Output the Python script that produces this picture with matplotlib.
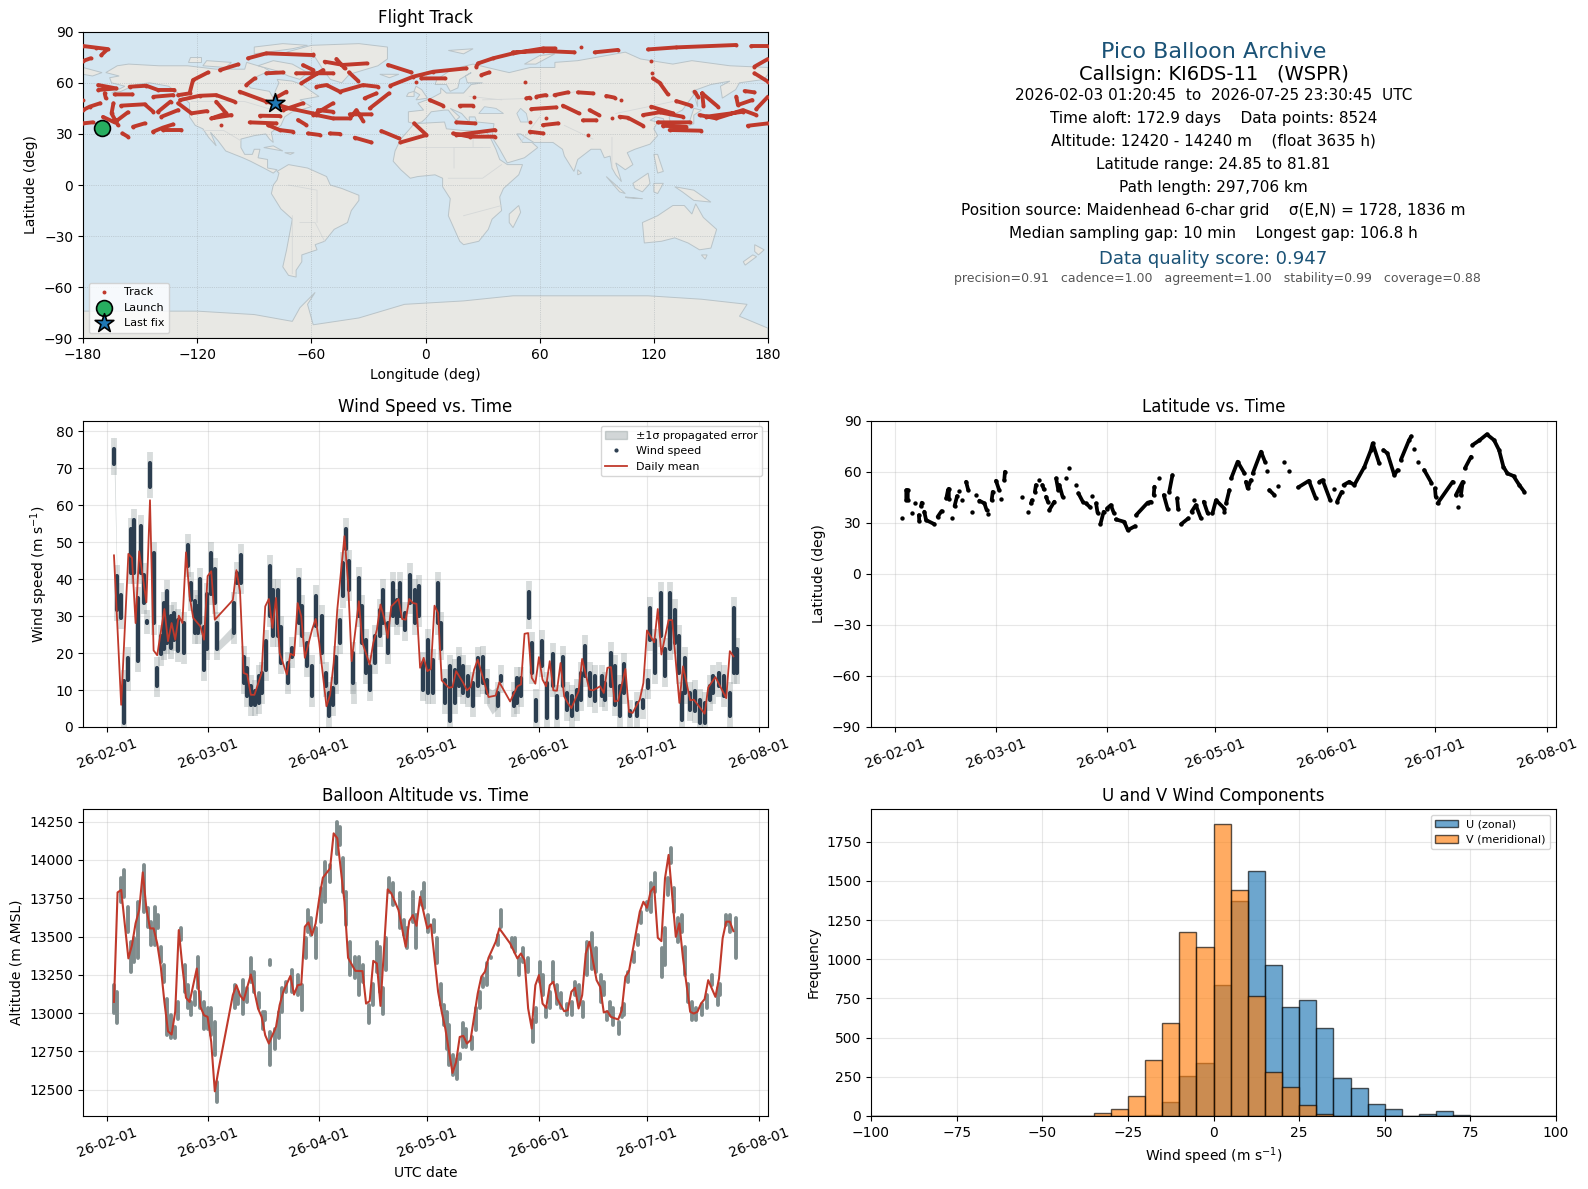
import numpy as np
import matplotlib
matplotlib.use('Agg')
import matplotlib.pyplot as plt
import matplotlib.dates as mdates
from matplotlib.patches import Polygon, Patch

n = np.nan

# flight track, one list of (lon, lat) per stretch
track_runs = [
 [(-180,81.6),(-173,80.6),(-167,79.8),(-170.4,76.3)], [(-180,72.8),(-176,74.4)], [(-180,50)], [(-180,44),(-176.5,46),(-171,48)], [(-180,36.2),(-175,36.8)],
 [(-172,58.7),(-162.5,56.7),(-172,55.8)], [(-168.6,53.8),(-168,51)], [(-163.4,53.2),(-154,53.2)], [(-155.5,57.7),(-146.7,58.3),(-140.6,55.8),(-132,55.8)],
 [(-143,51.8),(-132.7,52.8)], [(-160,46.6),(-147.6,47.4),(-143,43)], [(-164,48),(-165,42),(-161.6,35.2)], [(-169.5,40),(-163.4,36.8),(-156.4,42.7)],
 [(-159.3,30.3),(-156.4,28.4)], [(-153.7,34.2),(-147.6,36.2)], [(-143.2,31.3),(-138,33.7),(-132.7,35.6)], [(-138,32.3),(-128.3,32.3)],
 [(-140.6,43),(-134,49)], [(-138.8,40.1),(-130,44)], [(-130,52.8),(-124,53.8),(-122.2,61.6),(-114.3,66.1)], [(-108,67.5),(-98.5,70.8)],
 [(-130,48),(-123,42.1),(-115,43.4)], [(-129,49.9),(-118.7,52.4),(-110,52.8),(-100.3,48.9)], [(-110,48.9),(-104.7,42.1),(-112.6,39.1),(-102,41.1)], [(-107.3,35.2)],
 [(-93.3,74.4),(-83.7,77.3),(-59,76.3)], [(-94.2,58.7),(-89.8,62.6)], [(-83.6,65.6),(-75,66.1)], [(-97.7,54.8),(-83.6,49),(-71.4,45),(-59,42)],
 [(-73.1,54.8),(-79.3,50.9)], [(-87,40.7),(-76.6,40.5)], [(-92.4,36.8),(-78.4,36.2)], [(-82.8,35.2),(-76.6,32.3),(-69.6,31.3)], [(-67,38.2),(-62.6,35.2)],
 [(-61.8,30.3),(-55.6,29.4)], [(-65.3,59.7),(-53.8,67.5)], [(-64.4,70.4),(-59,67.5)], [(-68,65.6),(-48.6,65.6)], [(-75,44),(-64.4,48)], [(-59,76.7)],
 [(-53,72.4),(-43.3,70.5),(-31,71.4)], [(-46.8,74),(-42.5,68.5)], [(-40.2,66.1),(-35.4,61.1)], [(-19.7,70.5),(-7.4,66.1)],
 [(-18.5,58.3),(-6.5,63.6),(4,66.5),(21.5,68.5)], [(-2.2,62.6),(10.1,62.6)], [(-4.8,60.3)], [(-57.3,57.7),(-52,58.7),(-45,54.8),(-32.8,58.7),(-25,57.7)],
 [(-32,50.9),(-25.8,53.8)], [(-29.3,45),(-19.2,53.8)], [(-59,41.1),(-48.6,48)], [(-56.5,44),(-48.6,43)],
 [(-57.3,41.1),(-48.6,39.1),(-39.8,39.1),(-36.3,44),(-32.8,37.6)], [(-39.8,41.5),(-28.4,41.5)], [(-50.3,30.3),(-45,30)], [(-37.2,27.8),(-28.4,25)],
 [(-23.2,31.7),(-13.9,27.4)], [(-13.2,25),(0.5,29.4),(-6,36.2)], [(2.2,49.9),(9.2,46.6)], [(18,46.6),(25,46.6)], [(25.7,51.5)], [(29.4,64.6),(33.4,66.1)],
 [(26.7,69.5),(27.6,71.4),(35.5,74.4),(46,77.3),(61.8,80.2),(67.8,80.2)], [(46,77.9),(61.7,78.7),(78.3,77.9)], [(52.3,60.5)], [(53,50.9),(54.8,51.3)],
 [(58.3,51.9),(63.1,52.8)], [(55.6,44.6),(68.7,45.6)], [(54.8,36.8)], [(54.8,31.3),(61.8,30.3)], [(16.2,36.8),(25.9,36.2)],
 [(14.5,30.3),(23.2,28.4),(36.4,28.4)], [(16.2,29.4),(36.4,32.3)],
 [(81.8,80.8)], [(88.9,77.9),(101.1,79.3)], [(116.9,79.6),(131.8,80.8),(163.3,82.2)], [(171.2,81.6),(180,81.6)], [(118.6,73)], [(119.2,65.6)],
 [(119.5,62.6),(123,60.1),(127.4,53.2)], [(67.8,52.8),(74.8,54.4)], [(80.1,54.4),(88,53.8)], [(95,52.3),(99.4,51.3)], [(102.9,49.9)],
 [(72.2,46.6),(80.6,42.1)], [(86.2,44),(91.1,41.1)], [(82.7,38),(89.7,38)], [(63.5,39.5)], [(61.7,35.2),(69.6,36.2)], [(85.3,29.4)], [(98.1,39.1)],
 [(102,40.1),(106.4,39.5),(114.3,34.8)], [(114.3,41.1),(123,42.7),(135.3,40.1)], [(118.6,46),(130,42.1)], [(122.1,36.8),(138.8,36.8)],
 [(128.3,32.3),(144.9,31.9)], [(124.8,34.8),(137,34.2)], [(131.8,49.3),(139.7,46.6)], [(141.4,54.8),(143.2,51.9)], [(145.4,53.8),(153.7,46)],
 [(145.4,53.8),(146.1,46.6)], [(144,41.1),(152.8,39.1),(166.8,44),(173.8,41.1)], [(147.5,40.1),(166.8,43)], [(167.7,55.2),(172.9,54.4)],
 [(163.3,51.9),(164.2,47),(171.7,49.9)], [(173.8,44.6),(180,51.9)], [(169.4,34.8),(180,36.2)], [(172.9,69.5),(180,74)], [(172.9,65.6),(180,60.7)],
]

# landmass outlines
north_america = [(-168,66),(-162,70),(-156,71),(-140,70),(-125,70),(-110,68),(-95,68),(-94,72),(-85,69),(-82,67),(-88,64),(-94,60),(-92,57),(-82,55),(-80,51),(-79,55),(-77,60),(-78,62),(-70,61),(-65,59),(-60,55),(-56,52),(-66,50),(-60,46),(-66,44),(-70,43),(-74,40),(-76,35),(-81,31),(-80,25),(-82,27),(-84,30),(-90,29),(-97,27),(-97,22),(-95,18),(-91,18),(-90,21),(-87,21),(-88,16),(-83,15),(-83,10),(-78,9),(-80,7),(-85,10),(-92,14),(-96,16),(-105,20),(-109,26),(-113,31),(-110,23),(-114,28),(-117,33),(-121,35),(-124,40),(-124,48),(-130,54),(-135,58),(-145,60),(-152,59),(-160,55),(-165,54),(-158,58),(-165,60),(-166,63),(-161,64)]
greenland = [(-73,78),(-60,82),(-35,83),(-20,81),(-20,74),(-25,70),(-40,65),(-44,60),(-50,62),(-54,68),(-58,75),(-68,76)]
baffin = [(-80,73),(-70,71),(-62,66),(-66,62),(-72,64),(-78,67),(-88,70)]
victoria = [(-117,70),(-105,69),(-102,72),(-115,73)]
ellesmere = [(-90,77),(-70,80),(-62,82),(-75,83),(-90,81)]
banks = [(-125,72),(-118,72),(-118,75),(-124,75)]
south_america = [(-78,8),(-72,12),(-62,10),(-52,5),(-50,0),(-44,-2),(-35,-6),(-35,-9),(-39,-15),(-41,-22),(-48,-26),(-53,-33),(-58,-35),(-57,-38),(-65,-41),(-65,-45),(-68,-50),(-68,-54),(-72,-53),(-75,-48),(-73,-38),(-70,-20),(-76,-14),(-81,-5),(-80,0),(-78,3),(-77,7)]
africa = [(-6,36),(10,37),(11,33),(20,32),(25,32),(32,31),(34,28),(37,21),(39,15),(43,12),(51,12),(49,6),(41,-2),(39,-7),(40,-15),(35,-20),(33,-26),(28,-33),(20,-35),(18,-33),(12,-18),(13,-8),(9,-1),(9,4),(5,6),(-4,5),(-8,4),(-13,9),(-17,14),(-16,20),(-13,27),(-9,32)]
eurasia = [(-9,37),(-9,43),(-1,44),(-4,48),(3,51),(8,54),(8,57),(11,54),(20,54),(24,59),(30,60),(22,60),(21,64),(24,66),(18,62),(17,57),(13,55),(11,59),(5,59),(6,62),(14,68),(25,71),(40,67),(44,66),(55,69),(68,69),(68,72),(80,73),(105,78),(113,74),(130,71),(140,73),(160,70),(180,69),(180,65),(178,62),(165,60),(163,56),(156,51),(155,58),(160,61),(150,59),(140,55),(141,53),(135,44),(128,40),(129,35),(126,35),(125,39),(121,40),(118,38),(122,37),(120,33),(122,29),(118,24),(110,21),(106,19),(109,12),(105,9),(100,13),(103,2),(100,6),(98,10),(97,17),(94,16),(92,21),(87,21),(80,15),(78,8),(73,17),(72,21),(67,25),(57,25),(54,27),(50,30),(48,30),(51,25),(56,25),(59,22),(52,16),(43,13),(39,21),(35,28),(36,36),(27,37),(26,40),(23,40),(23,37),(19,42),(13,45),(18,40),(16,38),(12,44),(10,44),(3,43),(0,39),(-2,37),(-6,36)]
chukotka = [(-180,69),(-170,66),(-175,64),(-180,65)]
australia = [(114,-22),(122,-18),(130,-12),(136,-12),(140,-17),(142,-11),(146,-19),(153,-26),(150,-37),(144,-38),(138,-34),(131,-31),(124,-33),(115,-34)]
tasmania = [(145,-41),(148,-41),(147,-43.5)]
nz_north = [(173,-35),(178,-38),(175,-41),(173,-39)]
nz_south = [(172,-41),(174,-42),(168,-47),(167,-45)]
madagascar = [(49,-12),(50,-16),(46,-25),(44,-22),(44,-17)]
antarctica = [(-180,-74),(-120,-74),(-90,-76),(-70,-80),(-66,-72),(-58,-63),(-62,-70),(-59,-82),(-35,-78),(-11,-70),(20,-68),(46,-65),(117,-65),(145,-67),(169,-70),(165,-77),(180,-84),(180,-90),(-180,-90)]
britain = [(-5,50),(1,51),(-2,56),(-5,58),(-6,55),(-3,53)]
ireland = [(-10,52),(-6,52),(-6,55),(-9,54)]
iceland = [(-24,65),(-14,65),(-19,63)]
japan = [(130,32),(136,34),(141,36),(141,41),(145,44),(141,45),(139,38),(132,35)]
sumatra = [(95,5),(105,-5),(102,-4)]
borneo = [(109,1),(117,7),(118,1),(114,-4),(110,-2)]
java = [(105,-7),(114,-8),(106,-7.5)]
sulawesi = [(120,1),(125,1),(122,-5),(120,-4)]
new_guinea = [(131,-1),(141,-3),(150,-10),(141,-9),(135,-4)]
philippines = [(120,18),(122,18),(125,8),(122,7)]
sri_lanka = [(80,9),(82,7),(80,6)]
cuba = [(-85,22),(-75,20),(-80,23)]
hispaniola = [(-74,19),(-69,19),(-71,18)]
svalbard = [(12,79),(25,80),(20,77)]
novaya = [(52,71),(58,71),(68,77),(60,76)]
sakhalin = [(142,54),(143,50),(143,46),(142,50)]
land_parts = [north_america, greenland, baffin, victoria, ellesmere, banks, south_america, africa, eurasia, chukotka,
              australia, tasmania, nz_north, nz_south, madagascar, antarctica, britain, ireland, iceland, japan, sumatra,
              borneo, java, sulawesi, new_guinea, philippines, sri_lanka, cuba, hispaniola, svalbard, novaya, sakhalin]
black_sea = [(28,42),(31,46),(37,45),(41,42),(35,42)]
caspian = [(50,45),(53,42),(54,37),(50,37),(48,42)]

border_runs = [[(-123,49),(-95,49),(-83,45),(-75,45),(-67,47)], [(-117,32),(-106,32),(-97,26)], [(-70,-18),(-70,-52)],
               [(-66,-22),(-58,-22),(-53,-33)], [(-72,0),(-57,-3),(-57,-22)], [(-10,22),(25,22),(34,22)], [(15,10),(15,22),(30,22)],
               [(25,22),(25,32)], [(12,4),(30,4),(40,12)], [(20,-18),(40,-12)], [(30,50),(60,51),(80,55)], [(60,40),(50,25)],
               [(100,42),(130,49)], [(73,35),(88,27)], [(98,10),(98,28)], [(23,52),(40,50)]]

launch_lon, launch_lat = -170, 33.5
last_lon, last_lat = -79, 48.3

# wind speed: day since 02-01, spread of the fixes in that day's column
wind_day = [2.1,2.8,3.9,4.8,5.8,6.7,7.5,8.7,9.5,10.3,11.1,12.1,13,14,15,15.8,16.7,17.9,18.8,19.7,21.4,22.5,23.3,24.4,25.3,26,27,27.8,29,30,30.7,
 35.3,36.2,37.3,38,39,40.1,41.2,42.3,43.2,44.1,45.2,46.2,47.6,48.5,50.3,51.3,53.4,54.3,55.6,57,58.2,59.9,60.8,61.7,62.8,63.7,64.7,65.6,66.5,67.3,68.4,68.6,70,71,71.9,73,74.4,75.8,76.7,78.1,79.5,80.5,81.4,82.8,84.3,85.5,86.7,87.9,89.2,
 90.7,92,92.8,93.9,95.3,96.7,97.9,99,100.4,101.6,103.2,104.6,105.5,108.5,109.5,113,114,115,117.2,118.1,119.1,120.8,122.2,123.8,125.1,126.6,127.7,129.1,130.5,131.7,132.9,134.2,135.6,137.5,138.4,140,141,142.4,143.7,145.3,147.2,148.9,150.2,150.9,152.3,154,155.1,156.5,157.7,158.8,159.7,160.6,162,163.4,164.8,166.2,167.4,168.3,169.9,171.5,173,174.1,175]
wind_high = [75.2,40.8,35.8,12.4,18.7,53.4,56,34.9,54.3,41.2,28.6,71.4,47,16,24.5,33.5,36.7,30,30.8,29,28,49.3,39,34,32.6,39.9,27,36,47,42.6,28,
 33.5,41.7,46.6,19,16,11,9.6,13.7,14.6,23.2,43.5,37,37,27,17.3,21.4,39.9,32.6,22.7,16.4,35.3,30,14.6,9.2,10.5,19,29,44.4,53.4,44.8,20,9.2,40.3,32.6,23.6,16.4,24.5,31.7,37,28,39,34.4,39,30.8,41.2,37,38,17.3,23.6,
 18.2,39,28,12.8,16.4,15.5,18.7,16.4,13.7,11.9,18.7,19,12.8,9.2,13.7,9.2,13.3,13.3,36.4,22.7,7.4,23.2,11.9,19.6,8.3,19,9.2,8.3,10,14.6,21.8,14.6,13.7,13.7,11.9,20,16.4,11,16.9,4.2,6.5,7.4,12.8,32.2,23.6,36.2,21,36.2,31.7,24.5,9.2,18.7,9.2,9.6,7.4,6.5,11,13.7,14.6,13.7,9.2,32.2,21]
wind_low = [71,31.7,29.5,1.1,12.8,41.7,41.7,17.8,41.7,33.5,28.1,65,28,11,19.6,21,22.7,21.4,23.6,20.5,20,43.5,34.4,25.4,25.4,28,15.5,21,36,33.5,21,
 25.4,39,39,12,8.3,6,6,6.5,9.2,15.5,30,24.5,24.5,17.3,12,19,28,24.5,16.4,8.3,27.2,20,11,3,6,12,22.7,35.3,48,37,12,9.2,30,22.7,14.6,10,17.3,24.5,28,20,30,28,30,26.3,33.5,28,30,10,9.2,
 9.2,28,21,6.5,1.5,6.5,11,9.2,8.3,5.6,11,12,9.2,5.6,12.3,5.6,6.5,8.3,29.5,14.6,1.5,16.4,2.4,11,2.4,11,4.7,2.9,4.7,7.4,13.7,8.3,6.9,8.3,7.4,11,6,2.9,9.2,2.9,2.9,5.1,10.6,23.6,14.6,24.5,13.7,21,22.7,14.6,2,9.2,4.7,4.2,1,1,7.4,9.2,11,8.3,2.9,14.6,14.6]
wind_sigma = 3

# stretches where the error band bridges a gap between fixes
gap1_day = [2.1,2.8]
gap1_low = [68,38]
gap1_high = [79,43]
gap2_day = [30.9,35.3]
gap2_low = [20.5,24.5]
gap2_high = [23.2,27.7]
gap3_day = [105.5,107,108.5]
gap3_low = [6,3.5,5]
gap3_high = [11,10,11]

wind_mean_day = [2,4,6,7,8,9,11,12,13,14,16,17,18,19,20,21,22,23,24,26,27,28,29,30,35,36,37,38,39,40,41,43,44,45,46,47,48,50,51,52,53,54,55,57,58,59,61,62,63,64,66,67,68,70,71,73,74,75,76,77,78,79,81,82,83,84,85,86,87,88,89,
 90,91,92,93,95,96,97,99,100,101,102,103,106,108,109,112,114,115,116,117,118,119,120,121,122,123,124,125,126,127,128,129,131,132,134,135,137,138,139,140,141,142,144,145,146,148,149,150,152,153,154,156,157,159,160,162,163,166,167,169,172,173,174]
wind_mean = [46.4,6,46.8,45.7,28.1,47.5,33.7,61.3,20.7,19.4,31.9,23.2,28.1,23.6,30.1,28.1,47.2,35.3,29.5,27.2,23.6,40.8,42.1,29,34.3,42.4,36.7,14.6,14.2,8.7,8.7,14.6,32.6,34.6,26.8,34.9,20,14.2,19.8,19.3,33.5,29.9,18.7,26.3,29.2,22.7,5.6,8.7,17.3,31.7,51.6,39,17.8,34,22.7,16.9,22.7,26.3,33.1,29.5,24.1,32.6,34.6,29.2,29,34.6,33.5,33.3,16,18.7,15.1,
 15.7,32.8,30.8,12.6,10.6,10.8,15.1,11.9,9.9,10.8,15.5,18.2,8.1,8.5,12.1,6.9,11,11.5,25.2,25.4,13.3,11.7,18.9,12.8,11,17.8,9.9,9.8,17.3,8.3,6.5,5.1,9.6,18.4,10.1,9.9,11,9.2,16,16.2,6.9,7.1,15.7,4.1,3.8,7.4,11.9,26.1,22.9,31.9,19.6,28.9,28.9,6.5,16.4,7.2,7.4,3.6,10.7,13.5,7.8,20.5,19.1]

# latitude strokes, one list of (day, lat) per stretch
lat_runs = [
 [(2.1,33)], [(3.2,49.2),(3.2,43.3)], [(3.6,49.2),(3.6,43.3)], [(4.8,35.5)], [(5.6,41.4)], [(7.5,41.8),(7.3,39.8)], [(6.7,34.5),(6.8,31)],
 [(8.2,36.5),(8.7,31.6),(11,29.2)], [(11.9,33.5),(13,36.9)], [(14.8,49.5),(14.3,44.3)], [(15,50),(15,44)], [(16,32.6)], [(17.3,45.7),(16.6,39.8)], [(17.7,48.8)], [(18.7,43.3)],
 [(19.8,54.1),(20.4,49.2)], [(21.5,36.5)], [(22.6,46.3)], [(23.5,43),(24.9,41.4),(25.5,37.5)], [(26,35.1)], [(26.9,43.3),(27.2,48.2)], [(28.1,54.7),(29,49.2)], [(29.6,44.1)],
 [(30.6,60),(30.4,55.1)], [(35.3,45.3)], [(37.1,36.5)], [(38.1,43.3),(37.8,41.4)], [(38.9,48.2),(39.2,52.2)], [(40,55.1)], [(41,52.2),(41.4,49.6)], [(42,45.3),(42.5,42.4)],
 [(42.9,37.5),(44.3,42.4)], [(44.8,56.1),(45.4,49.2)], [(45.7,52.2),(46.6,45.3)], [(47.5,56.1)], [(48.5,62.4)], [(50.3,52.2)], [(51,47.3),(52.2,42.4)], [(53.1,41.4),(54.3,39)],
 [(54.9,45.9)], [(55.9,41.4),(56.3,35.9)], [(58,36.5),(57.1,29.2)], [(58.9,38.4),(60,40.4),(60.8,35.9)], [(61.4,32),(63.7,30.6),(64.7,25.7),(66.7,28)],
 [(67,34.5),(70.2,41.8),(71.1,42.4)], [(71.9,46.3),(72.1,51.2)], [(73.5,56.1)], [(77.1,58),(76.2,48.2)], [(74.7,46.3),(75.8,37.9)], [(78.4,44.3),(78.7,37.9)],
 [(79.5,29.2),(81.5,32.6)], [(83.2,43.3)], [(82.4,36.5),(83.6,40.4),(85,32.6)], [(85.8,42.4),(86.9,35.5)], [(88.2,35.5),(89.2,43.3),(91.5,38.4)],
 [(91.5,36.5)], [(92,41.4),(92.9,49.2)], [(93.4,56.1),(95.2,65.9),(97.1,59)], [(97.5,54.1),(98,50.2),(98.9,55.1)], [(99.4,59),(101.7,71.8),(102.8,65.9)], [(103.3,60.4)],
 [(104,49.2),(105.4,46.3)], [(106.5,51.6)], [(108.2,65.5)], [(109.4,60.6)], [(112,50.8),(115,54.7),(116.9,44.3)], [(117.9,54.1),(118.8,55.1),(120.9,43.3)], [(121.9,49.6)],
 [(122.8,42.4),(124.1,48.2)], [(124.6,52.2),(126.2,54.1),(127.6,52.2),(130.4,62.9),(132.2,72.7),(132.7,76.7),(134.5,64.9)], [(135.7,72.7),(136.8,70.8),(138.7,58),(139.6,61)],
 [(140.5,66.9),(142.8,78.6),(143.4,80.8)], [(144.2,73.1)], [(145.2,65.5)], [(147,61),(149,53.5)], [(150,50.2),(150.2,45.3)], [(150.7,41.4),(154.9,54.1)],
 [(155.8,46.3),(157.7,54.1),(157.2,46.3)], [(156.5,39.4)], [(158.3,62),(160,68.8)], [(160.4,75.7),(162.3,78.4),(164.4,82),(166.4,78.6),(167.8,72.7),(169,62.9),(170.1,59),(171.8,57.5),(173.4,52.2),(174.8,48.2)],
]

# altitude: same kind of daily columns
alt_day = [2.1,2.9,3.9,4.7,6,6.7,7.6,8.6,10.3,11.4,12.3,13.3,14.2,15,16,16.8,17.9,19,19.7,20.6,21.6,22.5,23.4,24.4,25.3,26,27,28,29,30,30.6,35.5,36.4,37.8,38.9,40.1,41,42.2,43.4,44,45.2,45.3,46.6,47.7,48.7,49.9,51.4,53.1,54.2,55.2,55.9,56.8,58.1,59.6,60.5,62.1,63.8,64.7,65.6,66.5,67.5,68.9,70,71.1,72.8,73.9,74.9,75.8,76.7,77.6,78.4,79.5,81.4,82.4,83.3,85.1,86,87.4,88.1,89.2,
 90.9,91.8,92.7,93.6,94.6,95.1,96.2,97.2,98.1,98.8,99.8,101.3,102.5,103.5,104.6,105.5,106.7,108.5,109.5,112.4,113.4,114.6,115.7,117,118.3,119.1,120.3,121,122,123,124,125,126.1,127.8,129.1,130,131,132.2,133.3,134.7,135.8,137.2,138.1,138.9,139.8,140.7,140.8,142.3,143,143.7,144.6,146.3,147.4,148.3,150,151.1,152.1,154.2,155.1,155.7,156.7,157.4,158.5,159.7,160.6,161.4,162.5,163.7,165.3,166.6,168,169.6,170.4,172,173.1,174.8]
alt_high = [13182,13140,13880,13934,13695,13466,13488,13727,13967,13684,13597,13695,13640,13433,13313,13095,12986,12910,13073,13553,13313,13182,13073,13139,13368,13139,13073,13030,13030,12943,12550,13182,13139,13215,13161,13357,13270,13128,13008,13008,12877,13346,12899,13008,13161,13204,13280,13248,13182,13488,13673,13618,13553,13815,13989,13967,14250,14217,14010,13793,13466,13368,13368,13313,13052,13193,13466,13433,13161,13488,13880,13847,13782,13607,13553,13793,13640,13793,13847,13640,
 13607,13488,13193,13052,13008,12921,12725,12703,12735,12932,12899,12844,13030,13139,13226,13324,13368,13509,13673,13488,13488,13357,13422,13357,12953,13030,13335,13248,13041,13139,13335,13182,13128,13062,13073,13204,13182,13073,13466,13520,13422,13248,13204,13008,13073,13030,12779,12943,13030,13062,13270,13400,13509,13662,13727,13847,13913,13422,13553,13880,14076,13815,13618,13640,13433,13193,13073,13030,13062,13117,13248,13161,13193,13640,13640,13618]
alt_low = [13000,12932,13727,13760,13531,13270,13335,13357,13662,13564,13444,13444,13553,13335,13204,12855,12834,12834,12964,13477,13139,13030,12986,13052,13161,13030,12899,12899,12855,12725,12419,13030,13062,12997,13073,13204,13139,13030,12899,12953,12659,13313,12768,12834,13008,13139,13139,13117,13019,13357,13531,13509,13357,13597,13727,13858,14042,14097,13793,13575,13248,13226,13117,13204,12932,13052,13270,13139,12997,13280,13793,13706,13553,13509,13422,13597,13422,13706,13684,13531,
 13531,13324,13052,12921,12768,12659,12594,12572,12703,12779,12779,12768,12888,13030,13171,13182,13357,13444,13564,13433,13400,13248,13331,13270,12812,12943,13204,13117,12975,13030,13204,13062,13030,12986,12986,13117,13052,12975,13248,13291,13270,13073,13117,12953,12986,12921,12779,12866,12975,12986,13204,13335,13444,13586,13673,13662,13793,13237,13313,13771,13978,13662,13466,13531,13248,13073,12953,12953,12986,13030,13182,13052,13117,13575,13531,13357]

alt_mean_day = [2,3,4,6,7,8,9,10,11,12,13,14,15,16,17,18,19,20,21,22,23,25,26,27,28,29,30,31,35,36,37,38,40,42,43,44,45,47,48,49,51,52,53,54,55,56,57,58,59,60,62,63,64,65,66,67,69,71,72,73,74,75,76,78,79,81,83,84,85,86,87,89,
 90,92,93,94,96,97,98,99,100,101,103,104,105,106,108,109,112,114,115,116,117,118,119,120,121,122,123,124,125,127,128,129,130,131,132,133,134,136,137,138,139,140,142,143,144,145,148,149,150,151,152,153,154,155,156,158,159,160,162,163,164,165,166,167,169,170,171,172,173,174]
alt_mean = [13073,13788,13804,13357,13444,13586,13673,13919,13684,13553,13553,13455,13302,13073,12881,12860,13008,13542,13302,13100,13073,13291,13041,12986,12975,12812,12489,12626,13117,13182,13117,13084,13252,13030,12975,12855,12801,12910,13052,13139,13243,13121,13182,13187,13564,13592,13509,13586,13749,13884,13945,14174,14142,13934,13727,13361,13276,13274,13062,13078,13341,13324,13047,13808,13782,13673,13433,13601,13640,13570,13760,13553,
 13579,13139,13008,12899,12609,12681,12844,12851,12801,12823,13128,13237,13270,13361,13466,13553,13455,13357,13389,13346,13030,12899,13182,13248,13062,13034,13182,13204,13095,13012,13019,13139,13165,13030,13117,13389,13466,13215,13171,13004,13012,12975,12958,13019,13237,13274,13662,13727,13688,13793,13825,13492,13470,13880,14033,13498,13586,13357,13008,12997,13008,13062,13091,13215,13106,13226,13488,13597,13597,13535]

# histogram counts, 5 m/s bins
bin_edges = list(range(-100, 105, 5))
u_left = [-20,-15,-10,-5,0,5,10,15,20,25,30,35,40,45,50,60,65,70]
u_count = [4,90,256,337,835,1372,1564,963,695,737,560,241,177,75,43,11,30,4]
v_left = [-35,-30,-25,-20,-15,-10,-5,0,5,10,15,20,25,30]
v_count = [21,43,124,356,592,1174,1078,1865,1443,763,277,181,66,11]

W, H = 1588, 1189
red = '#c0392b'
navy = '#2c3e50'
slate = '#7f8c8d'
title_blue = '#1a5276'


def add_axes(left, top, right, bottom):
    return fig.add_axes([left / W, 1 - bottom / H, (right - left) / W, (bottom - top) / H])


def date_axis(ax):
    ax.set_xlim(base - 6.6, base + 183.6)
    ax.xaxis.set_major_locator(mdates.MonthLocator())
    ax.xaxis.set_major_formatter(mdates.DateFormatter('%y-%m-%d'))
    ax.tick_params(axis='x', labelrotation=20)
    ax.grid(alpha=0.3)
    ax.set_axisbelow(True)


def split_runs(runs):
    xs, ys = [], []
    for run in runs:
        xs += [p[0] for p in run] + [n]
        ys += [p[1] for p in run] + [n]
    return np.array(xs), np.array(ys)


base = mdates.datestr2num('2026-02-01')
fig = plt.figure(figsize=(W / 100, H / 100), dpi=100)

# map
ax1 = add_axes(83, 31.7, 768, 338.4)
ax1.set_facecolor('#d4e6f1')
for part in land_parts:
    ax1.add_patch(Polygon(part, closed=True, fc='#e8e8e4', ec='#b9c4c9', lw=0.7, zorder=1))
for part in [black_sea, caspian]:
    ax1.add_patch(Polygon(part, closed=True, fc='#d4e6f1', ec='#b9c4c9', lw=0.6, zorder=1.1))
border_x, border_y = split_runs(border_runs)
ax1.plot(border_x, border_y, color='#d5d8d8', lw=0.6, zorder=1.2)
ax1.grid(color='#a0a8ac', lw=0.5, linestyle=':', alpha=0.8, zorder=1.5)
track_x, track_y = split_runs(track_runs)
ax1.plot(track_x, track_y, color=red, lw=2.8, solid_capstyle='round', zorder=3)
ax1.scatter(track_x, track_y, s=8, color=red, linewidths=0, zorder=3, label='Track')
ax1.scatter([launch_lon], [launch_lat], s=130, color='#27ae60', edgecolors='k', linewidths=1.2, zorder=5, label='Launch')
ax1.scatter([last_lon], [last_lat], s=200, marker='*', color='#1f77b4', edgecolors='k', linewidths=1.2, zorder=6, label='Last fix')
ax1.set_xlim(-180, 180)
ax1.set_ylim(-90, 90)
ax1.set_xticks(range(-180, 181, 60))
ax1.set_yticks(range(-90, 91, 30))
ax1.set_xlabel('Longitude (deg)')
ax1.set_ylabel('Latitude (deg)')
ax1.set_title('Flight Track', fontsize=12)
ax1.legend(loc='lower left', fontsize=8, framealpha=0.8)

# summary text
cx = 1213.5 / W
fig.text(cx, 1 - 52.5 / H, 'Pico Balloon Archive', fontsize=16, color=title_blue, ha='center', va='center')
fig.text(cx, 1 - 75 / H, 'Callsign: KI6DS-11   (WSPR)', fontsize=14, ha='center', va='center')
summary_lines = ['2026-02-03 01:20:45  to  2026-07-25 23:30:45  UTC',
                 'Time aloft: 172.9 days    Data points: 8524',
                 'Altitude: 12420 - 14240 m    (float 3635 h)',
                 'Latitude range: 24.85 to 81.81',
                 'Path length: 297,706 km',
                 'Position source: Maidenhead 6-char grid    \u03c3(E,N) = 1728, 1836 m',
                 'Median sampling gap: 10 min    Longest gap: 106.8 h']
summary_y = [95.5, 118.5, 141.5, 164.5, 187.5, 210.5, 233.5]
for line, y in zip(summary_lines, summary_y):
    fig.text(cx, 1 - y / H, line, fontsize=11, ha='center', va='center')
fig.text(cx, 1 - 258.5 / H, 'Data quality score: 0.947', fontsize=13, color=title_blue, ha='center', va='center')
fig.text(cx + 4 / W, 1 - 278.5 / H, 'precision=0.91   cadence=1.00   agreement=1.00   stability=0.99   coverage=0.88',
         fontsize=9, color='#555555', ha='center', va='center')

# wind speed
ax2 = add_axes(83, 420.7, 768, 727)
wd = base + np.array(wind_day)
wl = np.array(wind_low)
wh = np.array(wind_high)
ax2.vlines(wd, wl - wind_sigma, wh + wind_sigma, color=slate, alpha=0.3, lw=4.2)
for gd, gl, gh in [(gap1_day, gap1_low, gap1_high), (gap2_day, gap2_low, gap2_high), (gap3_day, gap3_low, gap3_high)]:
    ax2.fill_between(base + np.array(gd), gl, gh, color=slate, alpha=0.35, lw=0)
ax2.vlines(wd, wl, wh, color=navy, lw=3, capstyle='round')
ax2.plot(base + np.array(wind_mean_day), wind_mean, color=red, lw=1.3)
date_axis(ax2)
ax2.set_ylim(0, 82.8)
ax2.set_ylabel('Wind speed (m s$^{-1}$)')
ax2.set_title('Wind Speed vs. Time', fontsize=12)
band_handle = Patch(color=slate, alpha=0.35, label='\u00b11\u03c3 propagated error')
dot_handle = plt.Line2D([], [], ls='', marker='o', ms=2, color=navy, label='Wind speed')
line_handle = plt.Line2D([], [], color=red, lw=1.3, label='Daily mean')
ax2.legend(handles=[band_handle, dot_handle, line_handle], loc='upper right', fontsize=8)

# latitude
ax3 = add_axes(871, 420.7, 1556, 727)
lat_x, lat_y = split_runs(lat_runs)
ax3.plot(base + lat_x, lat_y, color='k', lw=2.7, solid_capstyle='round')
ax3.scatter(base + lat_x, lat_y, s=10, color='k', linewidths=0)
date_axis(ax3)
ax3.set_ylim(-90, 90)
ax3.set_yticks(range(-90, 91, 30))
ax3.set_ylabel('Latitude (deg)')
ax3.set_title('Latitude vs. Time', fontsize=12)

# altitude
ax4 = add_axes(83, 809.3, 768, 1115.8)
ad = base + np.array(alt_day)
ax4.vlines(ad, alt_low, alt_high, color=slate, lw=2.8, capstyle='round')
ax4.plot(base + np.array(alt_mean_day), alt_mean, color=red, lw=1.5)
date_axis(ax4)
ax4.set_ylim(12329, 14331)
ax4.set_xlabel('UTC date')
ax4.set_ylabel('Altitude (m AMSL)')
ax4.set_title('Balloon Altitude vs. Time', fontsize=12)

# histogram
ax5 = add_axes(871, 809.3, 1556, 1115.8)
ax5.hist(u_left, bins=bin_edges, weights=u_count, color='#1f77b4', alpha=0.65, edgecolor='k', label='U (zonal)')
ax5.hist(v_left, bins=bin_edges, weights=v_count, color='#ff7f0e', alpha=0.65, edgecolor='k', label='V (meridional)')
ax5.set_xlim(-100, 100)
ax5.set_ylim(0, 1958)
ax5.grid(alpha=0.3)
ax5.set_axisbelow(True)
ax5.set_xlabel('Wind speed (m s$^{-1}$)')
ax5.set_ylabel('Frequency')
ax5.set_title('U and V Wind Components', fontsize=12)
ax5.legend(loc='upper right', fontsize=8)

fig.savefig('out.png', dpi=100)
